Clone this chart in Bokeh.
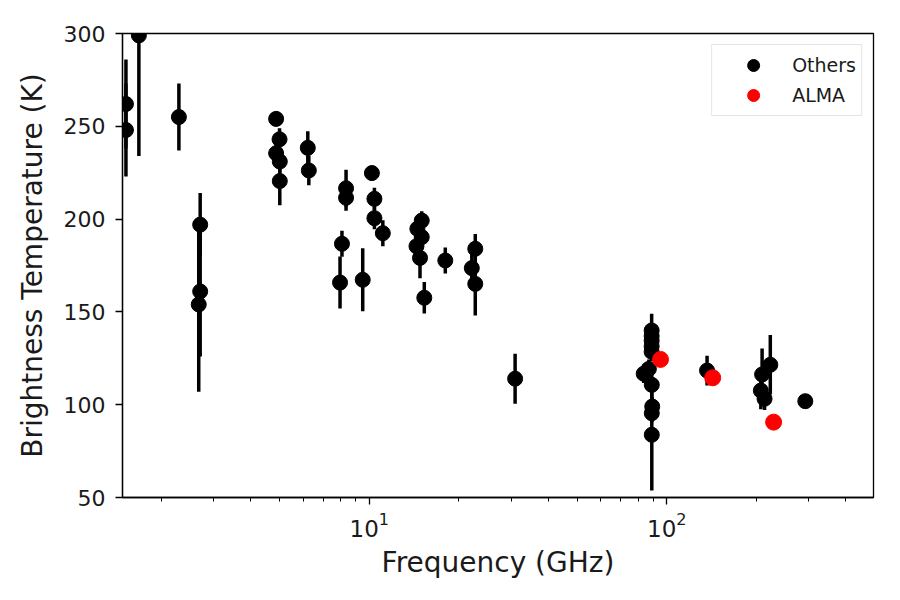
import numpy as np
from bokeh.plotting import figure
from bokeh.models import (ColumnDataSource, FixedTicker, Legend, LegendItem, Range1d)
from bokeh.embed import file_html
from bokeh.resources import INLINE

# ---- data ----
others_freq = [1.52, 1.52, 1.68, 2.29, 2.70, 2.70, 2.67,
               4.86, 4.99, 4.86, 5.0, 5.0, 6.21, 6.26,
               8.35, 8.35, 8.09, 7.97, 9.5,
               10.2, 10.4, 10.4, 11.1,
               15.0, 14.5, 15.0, 14.4, 14.8, 15.3, 18.0,
               22.7, 22.1, 22.7, 30.9,
               88.9, 88.9, 88.9, 88.9, 88.9, 83.6, 87.0, 89.0, 89.3, 89.0, 89.0,
               136.5, 209, 207, 213, 222.7, 292]
others_temp = [262, 248, 299, 255, 197, 161, 154,
               254, 243, 235.5, 231, 220.5, 238.4, 226.2,
               216.6, 211.5, 186.7, 165.8, 167.3,
               224.8, 210.9, 200.5, 192.4,
               199.2, 194.8, 190.3, 185.4, 179.1, 157.6, 177.7,
               184, 173.6, 165.1, 114,
               140, 137, 134.5, 131.5, 128.5, 116.7, 119.3, 110.7, 99, 95.4, 83.8,
               118.4, 116.3, 107.6, 103.2, 121.5, 101.9]
others_err = [24, 25, 65, 18, 17, 35, 47,
              4, 6, 6, 6, 13, 9, 8,
              10, 7, 7, 14, 17,
              4, 6, 6, 7,
              5, 6, 6, 6, 11, 8.5, 7,
              8, 9, 17, 13.5,
              9, 5, 5, 5, 5, 5, 5, 8, 5, 5, 30,
              8, 14, 10, 6, 16, 2]

alma_freq = [95.2, 142.6, 228.5]
alma_temp = [124.4, 114.5, 90.6]
alma_err = [3, 4, 2]

y_ticks = [50, 100, 150, 200, 250, 300]
x_major = [10, 100]
x_minor = [2, 3, 4, 5, 6, 7, 8, 9, 20, 30, 40, 50, 60, 70, 80, 90, 200, 300, 400, 500]

FONT = "DejaVu Sans"

def src(f, t, e):
    f = np.array(f, float); t = np.array(t, float); e = np.array(e, float)
    return ColumnDataSource(dict(x=f, y=t, lo=t - e, hi=t + e))

s_oth = src(others_freq, others_temp, others_err)
s_alma = src(alma_freq, alma_temp, alma_err)

p = figure(width=900, height=600, x_axis_type="log",
           x_range=Range1d(1.48, 495), y_range=Range1d(50, 300),
           output_backend="svg", toolbar_location=None,
           min_border_left=122, min_border_right=27,
           min_border_top=33, min_border_bottom=103)
p.xgrid.visible = False
p.ygrid.visible = False
p.outline_line_color = "black"
p.outline_line_width = 1.3
p.outline_line_alpha = 1.0
p.background_fill_color = "white"
p.border_fill_color = "white"

p.xaxis.ticker = FixedTicker(ticks=x_major, minor_ticks=x_minor)
p.yaxis.ticker = FixedTicker(ticks=y_ticks)
for ax in (p.xaxis[0], p.yaxis[0]):
    ax.axis_line_color = "black"
    ax.axis_line_width = 1.3
    ax.major_tick_line_color = "black"
    ax.major_tick_line_width = 1.3
    ax.major_tick_out = 7
    ax.major_tick_in = 0
    ax.major_label_text_font = FONT
    ax.major_label_text_font_size = "22px"
    ax.major_label_text_color = "#1a1a1a"
    ax.axis_label_text_font = FONT
    ax.axis_label_text_font_size = "28px"
    ax.axis_label_text_font_style = "normal"
    ax.axis_label_text_color = "#1a1a1a"
p.xaxis.major_label_text_font_size = "23px"
p.xaxis.minor_tick_line_color = "black"
p.xaxis.minor_tick_line_width = 1.0
p.xaxis.minor_tick_out = 4
p.xaxis.minor_tick_in = 0
p.yaxis.minor_tick_line_color = None
p.xaxis.major_label_standoff = 7
p.yaxis.major_label_standoff = 10
p.xaxis.axis_label = "Frequency (GHz)"
p.yaxis.axis_label = "Brightness Temperature (K)"
p.xaxis.axis_label_standoff = 6
p.yaxis.axis_label_standoff = 12

# error bars
p.segment(x0="x", y0="lo", x1="x", y1="hi", source=s_oth, line_color="black", line_width=3.5)
r_oth = p.scatter("x", "y", source=s_oth, size=15, fill_color="black", line_color="black")
p.segment(x0="x", y0="lo", x1="x", y1="hi", source=s_alma, line_color="red", line_width=3.5)
r_alma = p.scatter("x", "y", source=s_alma, size=16, fill_color="red", line_color="red")

legend = Legend(items=[LegendItem(label="Others", renderers=[r_oth]),
                       LegendItem(label="ALMA", renderers=[r_alma])],
                location="top_right", margin=11, padding=5, spacing=0,
                glyph_width=72, glyph_height=30, label_standoff=3,
                label_text_font=FONT, label_text_font_size="19px",
                label_text_color="#1a1a1a",
                border_line_color="#cccccc", border_line_width=1.2,
                background_fill_color="white", background_fill_alpha=0.8)
p.add_layout(legend, "center")

open("out.html", "w").write(file_html(p, INLINE))
